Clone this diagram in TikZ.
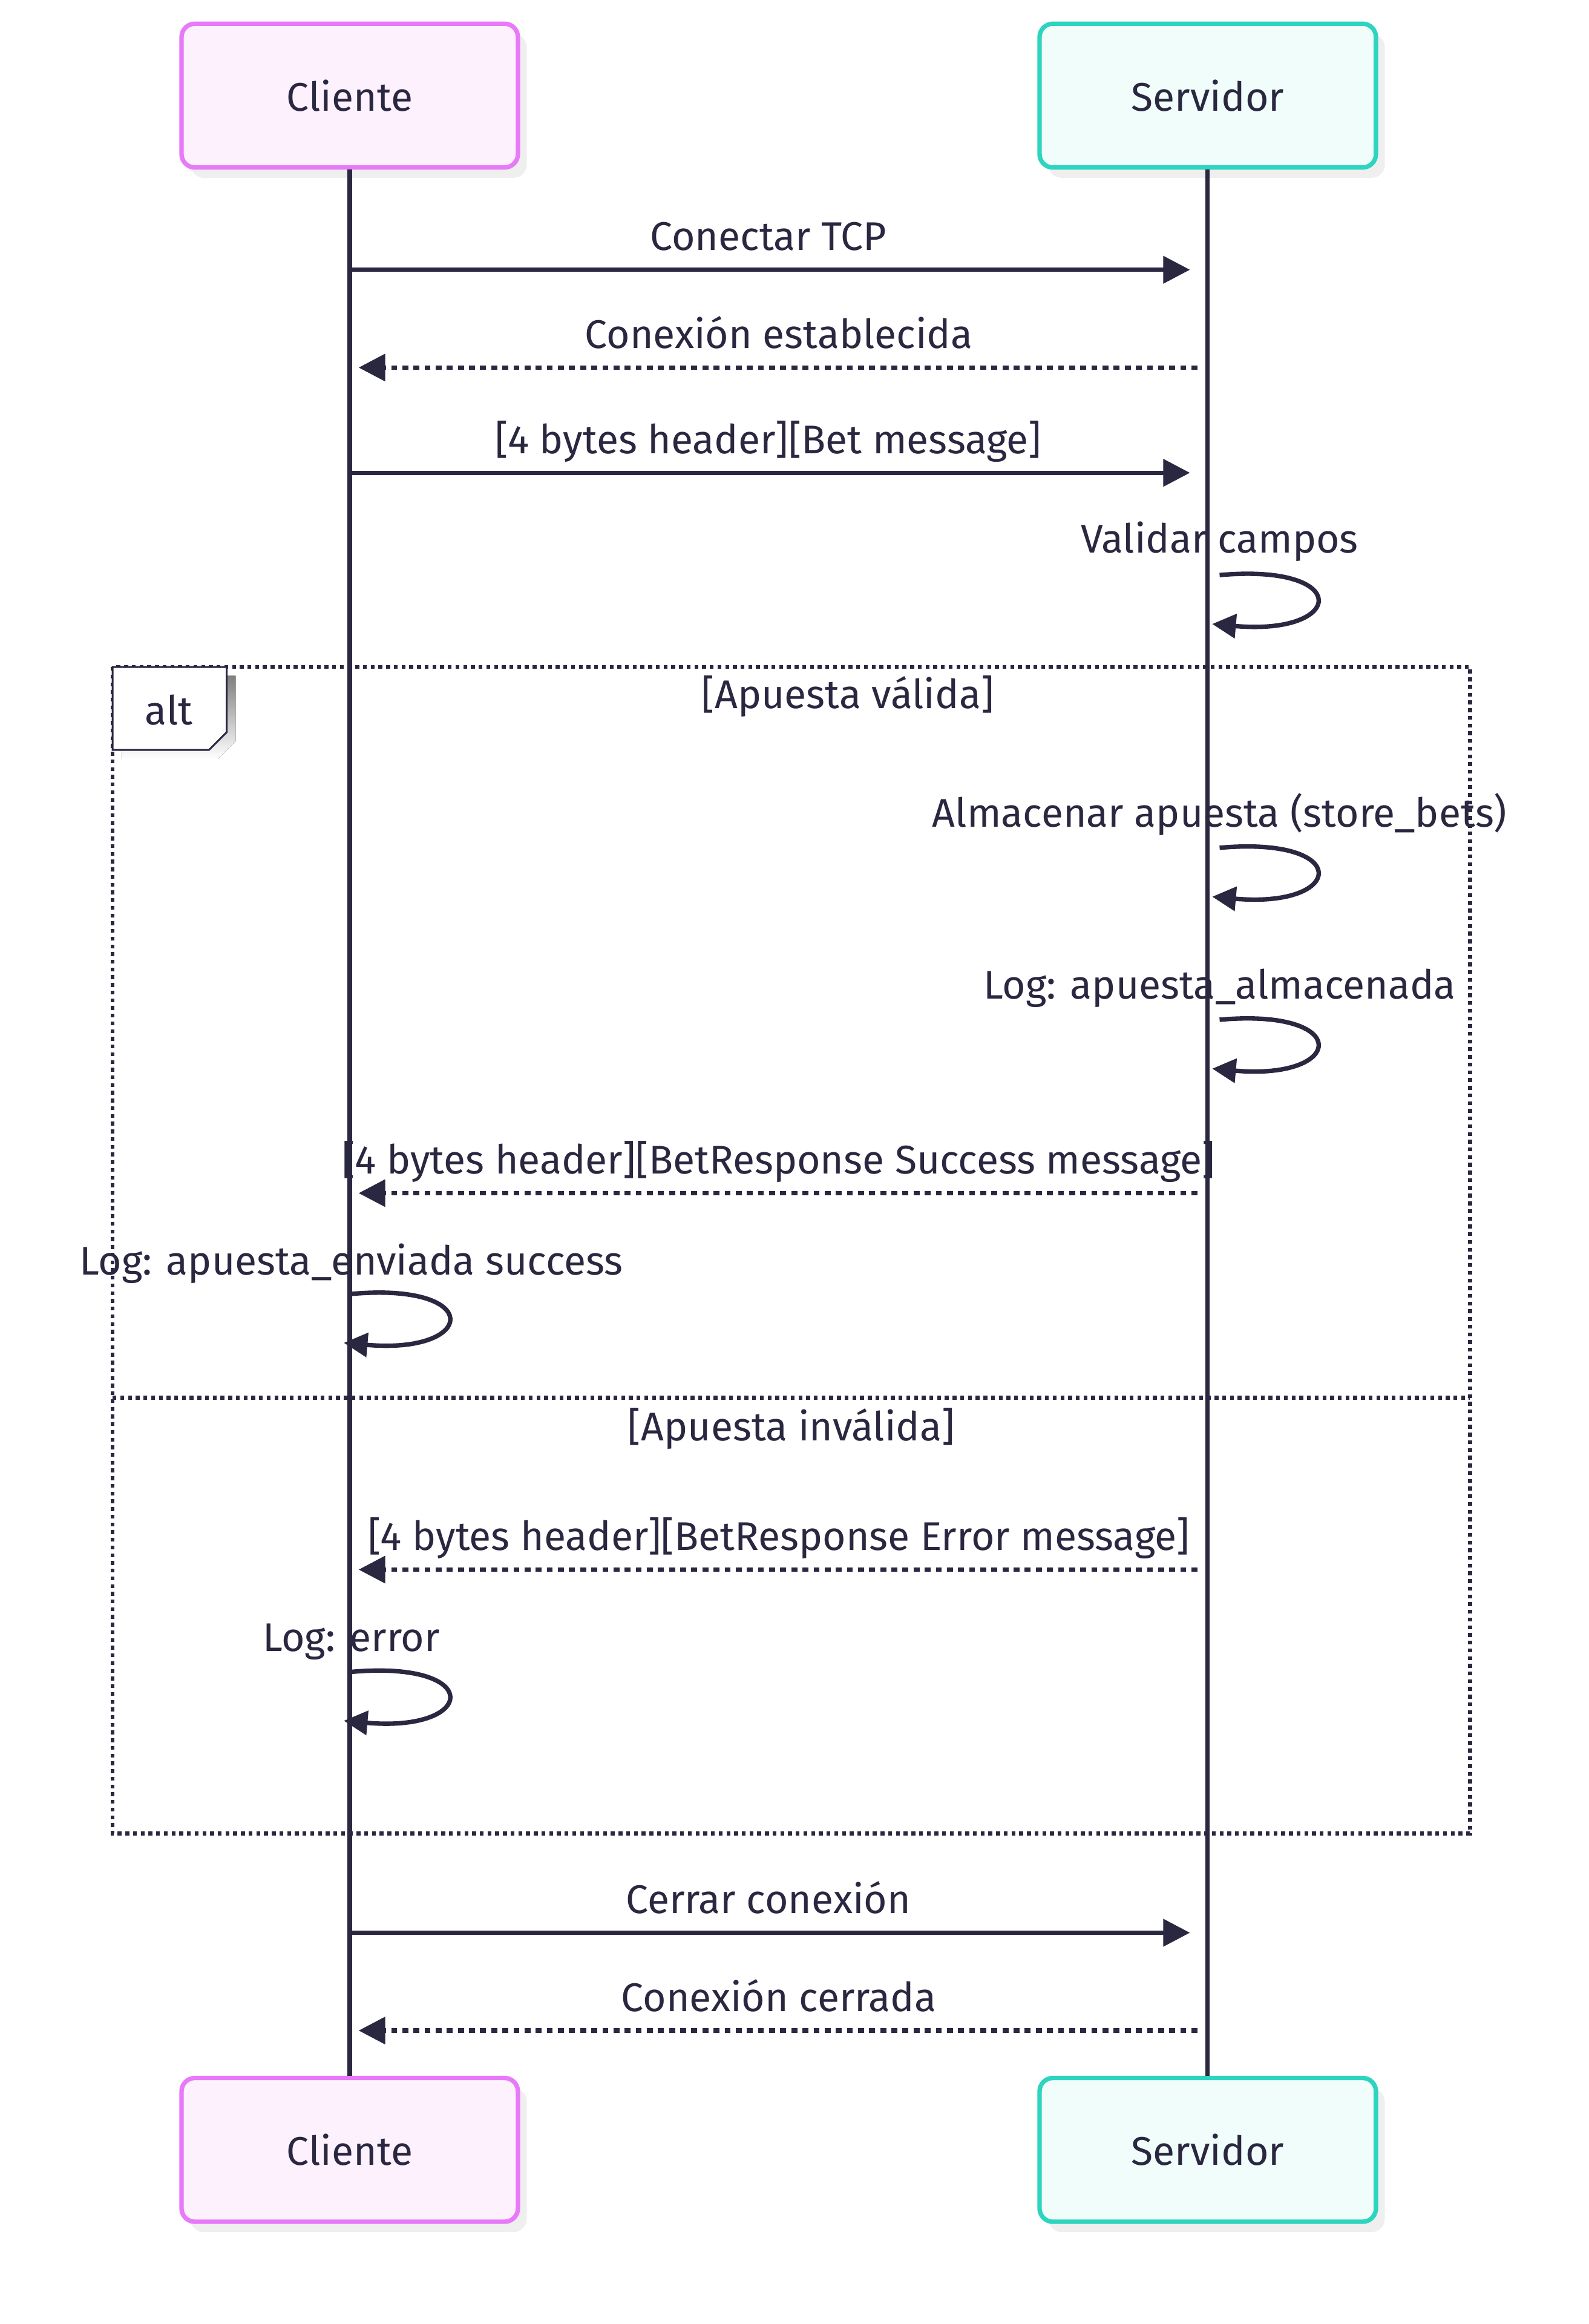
\documentclass[tikz,border=0pt]{standalone}
\usepackage{fontspec}
\setmainfont{Fira Sans}
\usetikzlibrary{arrows.meta, shadows}

\definecolor{ink}{HTML}{2A2740}
\definecolor{clientline}{HTML}{E879F9}
\definecolor{clientfill}{HTML}{FDF1FD}
\definecolor{serverline}{HTML}{2DD4BF}
\definecolor{serverfill}{HTML}{F0FDFA}
\definecolor{shade}{HTML}{EFEFEF}

\begin{document}
\begin{tikzpicture}
    [
        x = 1pt, y = -1pt,
        font = \fontsize{27}{32}\selectfont,
        every node/.style = {text = ink},
        actor/.style = {draw, rounded corners = 9pt, line width = 3pt, minimum width = 227pt, minimum height = 97pt,
            drop shadow = {shadow xshift = 6pt, shadow yshift = -7pt, fill = shade, draw = none, opacity = 1}},
        client/.style = {actor, draw = clientline, fill = clientfill},
        server/.style = {actor, draw = serverline, fill = serverfill},
        life/.style = {draw = ink, line width = 2.9pt},
        call/.style = {draw = ink, line width = 3pt, -{Triangle[length = 18pt, width = 18pt]}, shorten > = 12pt},
        reply/.style = {call, dash pattern = on 4pt off 3.5pt, shorten < = 7pt, shorten > = 6pt},
        selfmsg/.style = {draw = ink, line width = 3pt, -{Triangle[length = 16pt, width = 16pt]}},
        msg/.style = {midway, anchor = base, yshift = 13pt},
        frame/.style = {draw = ink, line width = 2.6pt, dash pattern = on 2.6pt off 2.6pt}
    ]

        \useasboundingbox (0, 0) rectangle (1072, 1568);

        \node[client] (Client1) at (236, 64.5) {Cliente};
        \node[server] (Server1) at (815, 64.5) {Servidor};
        \node[client] (Client2) at (236, 1450.5) {Cliente};
        \node[server] (Server2) at (815, 1450.5) {Servidor};
        \draw[life] (Client1.south) -- (Client2.north);
        \draw[life] (Server1.south) -- (Server2.north);

        \draw[frame] (76, 450) rectangle (992, 1237);
        \draw[frame] (76, 943) -- (992, 943);
        \fill[shade, shift = {(6, 6)}] (76, 450) -- (153, 450) -- (153, 494) -- (141, 506) -- (76, 506) -- cycle;
        \draw[ink, line width = 1.2pt, fill = white] (76, 450) -- (153, 450) -- (153, 494) -- (141, 506) -- (76, 506) -- cycle;
        \node (AltTag) at (114, 479) {alt};
        \node[anchor = base] (Valid) at (572, 478) {[Apuesta válida]};
        \node[anchor = base] (Invalid) at (534, 972) {[Apuesta inválida]};

        \foreach \i/\y in {1/182, 2/248, 3/319, 4/805, 5/1059, 6/1304, 7/1370} {
            \coordinate (c\i) at (236, \y);
            \coordinate (s\i) at (815, \y);
        }
        \draw[call] (c1) -- (s1) node[msg, xshift = -7pt] {Conectar TCP};
        \draw[reply] (s2) -- (c2) node[msg] {Conexión establecida};
        \draw[call] (c3) -- (s3) node[msg, xshift = -7pt] {[4 bytes header][Bet message]};
        \draw[reply] (s4) -- (c4) node[msg] {[4 bytes header][BetResponse Success message]};
        \draw[reply] (s5) -- (c5) node[msg] {[4 bytes header][BetResponse Error message]};
        \draw[call] (c6) -- (s6) node[msg, xshift = -7pt] {Cerrar conexión};
        \draw[reply] (s7) -- (c7) node[msg] {Conexión cerrada};

        \foreach \n/\x/\y in {Validate/823/388, Store/823/572, LogStored/823/688, LogSent/237/873, LogError/237/1128} {
            \coordinate (\n Out) at (\x, \y);
            \coordinate (\n In) at (\x - 5, \y + 33);
        }
        \draw[selfmsg] (ValidateOut) .. controls +(90, -8) and +(90, 8) .. (ValidateIn);
        \draw[selfmsg] (StoreOut) .. controls +(90, -8) and +(90, 8) .. (StoreIn);
        \draw[selfmsg] (LogStoredOut) .. controls +(90, -8) and +(90, 8) .. (LogStoredIn);
        \draw[selfmsg] (LogSentOut) .. controls +(90, -8) and +(90, 8) .. (LogSentIn);
        \draw[selfmsg] (LogErrorOut) .. controls +(90, -8) and +(90, 8) .. (LogErrorIn);
        \node[anchor = base] (ValidateText) at (823, 373) {Validar campos};
        \node[anchor = base] (StoreText) at (823, 558) {Almacenar apuesta (store\_bets)};
        \node[anchor = base] (LogStoredText) at (823, 674) {Log: apuesta\_almacenada};
        \node[anchor = base] (LogSentText) at (237, 860) {Log: apuesta\_enviada success};
        \node[anchor = base] (LogErrorText) at (237, 1114) {Log: error};
    \end{tikzpicture}
\end{document}
